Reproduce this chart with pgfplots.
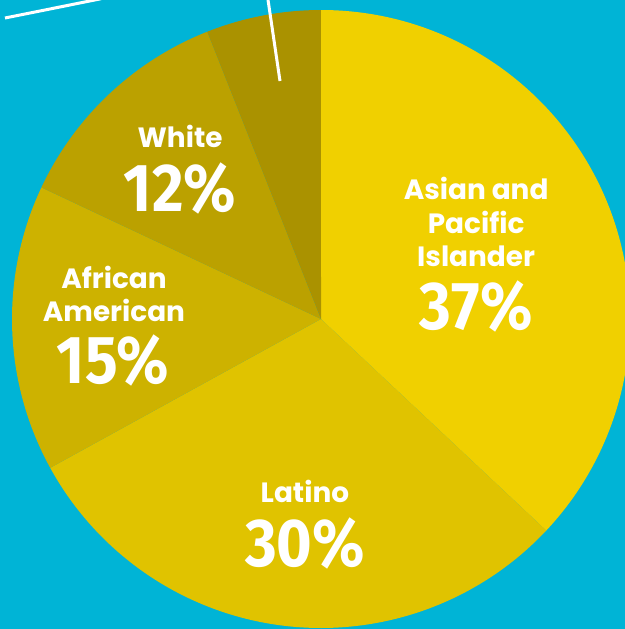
\documentclass[border=0pt]{standalone}
\usepackage{pgfplots}
\pgfplotsset{compat=1.18}
\usepackage{pgfplotstable}
\usepackage{fontspec}
\setmainfont{Fira Sans}
\newfontfamily\labfont{Poppins}
\definecolor{bgcyan}{HTML}{00B4D6}
\definecolor{cA}{HTML}{F0D000}
\definecolor{cB}{HTML}{E0C300}
\definecolor{cC}{HTML}{CDB200}
\definecolor{cD}{HTML}{BBA100}
\definecolor{cE}{HTML}{AA9200}

\pgfplotstableread{
slice value
asian 37
latino 30
african 15
white 12
other 6
}\piedata

\newcommand\getval[2]{\pgfplotstablegetelem{#1}{value}\of\piedata\edef#2{\pgfplotsretval}}

\begin{document}%
\getval{0}\vA\getval{1}\vB\getval{2}\vC\getval{3}\vD\getval{4}\vE%
% clockwise from 12 o'clock
\pgfmathsetmacro\sA{90}%
\pgfmathsetmacro\sB{\sA-3.6*\vA}%
\pgfmathsetmacro\sC{\sB-3.6*\vB}%
\pgfmathsetmacro\sD{\sC-3.6*\vC}%
\pgfmathsetmacro\sE{\sD-3.6*\vD}%
\pgfmathsetmacro\sF{\sE-3.6*\vE}%
\begin{tikzpicture}
\begin{axis}[hide axis, scale only axis, width=625bp, height=629bp,
  xmin=-1.0388, xmax=0.9838, ymin=-1.0032, ymax=1.0324, clip=true]
\fill[bgcyan] (rel axis cs:0,0) rectangle (rel axis cs:1,1);
\coordinate (SW) at (rel axis cs:0,0);
\coordinate (NE) at (rel axis cs:1,1);
\fill[cA] (axis cs:0,0) -- (axis cs:{cos(\sA)},{sin(\sA)}) arc[start angle=\sA, end angle=\sB, radius=309bp] -- cycle;
\fill[cB] (axis cs:0,0) -- (axis cs:{cos(\sB)},{sin(\sB)}) arc[start angle=\sB, end angle=\sC, radius=309bp] -- cycle;
\fill[cC] (axis cs:0,0) -- (axis cs:{cos(\sC)},{sin(\sC)}) arc[start angle=\sC, end angle=\sD, radius=309bp] -- cycle;
\fill[cD] (axis cs:0,0) -- (axis cs:{cos(\sD)},{sin(\sD)}) arc[start angle=\sD, end angle=\sE, radius=309bp] -- cycle;
\fill[cE] (axis cs:0,0) -- (axis cs:{cos(\sE)},{sin(\sE)}) arc[start angle=\sE, end angle=\sF, radius=309bp] -- cycle;
% leader lines from the cropped callouts
\draw[white, line width=3bp] (axis cs:-1.0227,0.9741) -- (axis cs:-0.7120,1.0364);
\draw[white, line width=3bp] (axis cs:-0.1740,1.0500) -- (axis cs:-0.1327,0.7702);
\tikzset{lab/.style={text=white, align=center, inner sep=0pt,
    font=\labfont\bfseries\fontsize{28}{34}\selectfont},
  pct/.style={text=white, inner sep=0pt, xscale=0.9,
    font=\bfseries\fontsize{68}{68}\selectfont}}
\node[lab] at (axis cs:0.502,0.314) {Asian and\\Pacific\\Islander};
\node[pct] at (axis cs:0.502,0.040) {37\%};
\node[lab] at (axis cs:-0.052,-0.557) {Latino};
\node[pct] at (axis cs:-0.052,-0.727) {30\%};
\node[lab] at (axis cs:-0.670,0.081) {African\\American};
\node[pct] at (axis cs:-0.673,-0.135) {15\%};
\node[lab] at (axis cs:-0.456,0.592) {White};
\node[pct] at (axis cs:-0.456,0.421) {12\%};
\end{axis}
\pgfresetboundingbox
\path (SW) rectangle (NE);
\end{tikzpicture}%
\end{document}
